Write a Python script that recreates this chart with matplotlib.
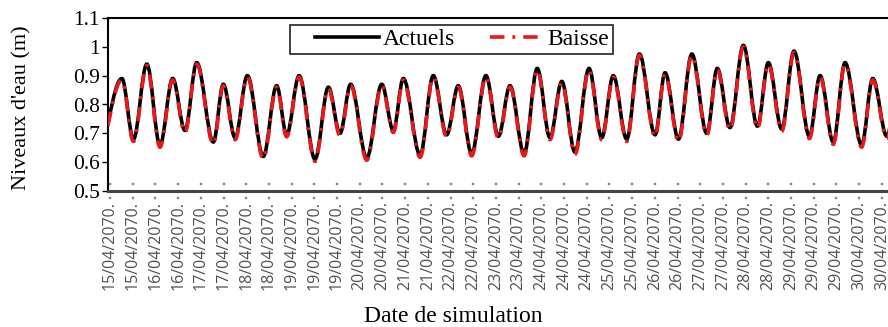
import matplotlib
matplotlib.use("Agg")
import matplotlib.pyplot as plt
import numpy as np
from matplotlib.path import Path
from matplotlib.patches import PathPatch
from matplotlib.lines import Line2D
from matplotlib.legend_handler import HandlerLine2D

# time axis in "label steps" (one step = spacing between two date labels)
t_ext = [-0.57, 0.52, 1.03, 1.62, 2.20, 2.76, 3.30, 3.82, 4.55, 4.99, 5.51, 6.05,
         6.75, 7.34, 7.78, 8.33, 9.03, 9.62, 10.13, 10.60, 11.31, 11.97, 12.48, 12.92,
         13.66, 14.24, 14.83, 15.34, 15.93, 16.56, 17.11, 17.62, 18.24, 18.82, 19.38, 19.90,
         20.48, 21.10, 21.66, 22.17, 22.76, 23.32, 24.01, 24.45, 25.04, 25.63, 26.29, 26.75,
         27.31, 27.90, 28.52, 29.00, 29.59, 30.13, 30.81, 31.28, 31.86, 32.38, 33.11, 33.60,
         34.22, 34.76]
# high / low water levels (m), current situation
actuels = [0.63, 0.89, 0.68, 0.94, 0.66, 0.89, 0.71, 0.945, 0.67, 0.87, 0.685, 0.90,
           0.62, 0.865, 0.695, 0.90, 0.61, 0.86, 0.70, 0.87, 0.615, 0.87, 0.71, 0.89,
           0.625, 0.90, 0.695, 0.865, 0.63, 0.90, 0.69, 0.865, 0.63, 0.925, 0.685, 0.88,
           0.635, 0.925, 0.685, 0.90, 0.68, 0.975, 0.695, 0.91, 0.68, 0.975, 0.70, 0.925,
           0.72, 1.005, 0.725, 0.945, 0.715, 0.985, 0.69, 0.90, 0.67, 0.945, 0.66, 0.89,
           0.69, 0.90]
# scenario "Baisse"
baisse = [0.62, 0.885, 0.672, 0.935, 0.652, 0.885, 0.703, 0.94, 0.662, 0.865, 0.678, 0.895,
          0.612, 0.86, 0.688, 0.895, 0.603, 0.855, 0.693, 0.865, 0.607, 0.865, 0.703, 0.885,
          0.617, 0.895, 0.688, 0.86, 0.622, 0.895, 0.683, 0.86, 0.622, 0.92, 0.678, 0.875,
          0.627, 0.92, 0.678, 0.895, 0.672, 0.97, 0.688, 0.905, 0.672, 0.97, 0.693, 0.92,
          0.712, 1.0, 0.717, 0.94, 0.707, 0.98, 0.682, 0.895, 0.662, 0.94, 0.652, 0.885,
          0.682, 0.895]

days = [15, 15, 16, 16, 17, 17, 18, 18, 19, 19, 19, 20, 20, 21, 21, 22, 22, 23, 23,
        24, 24, 24, 25, 25, 26, 26, 27, 27, 28, 28, 29, 29, 29, 30, 30]
xlabels = ["%d/04/2070." % d for d in days]
yticks = [0.5, 0.6, 0.7, 0.8, 0.9, 1.0, 1.1]
ylabels = ["0.5", "0.6", "0.7", "0.8", "0.9", "1", "1.1"]


def smooth_path(xs, ys, k=0.36):
    # smoothed line through the extremes (horizontal tangents), like a spreadsheet "smooth line"
    verts = [(xs[0], ys[0])]
    codes = [Path.MOVETO]
    for i in range(len(xs) - 1):
        dx = xs[i + 1] - xs[i]
        verts += [(xs[i] + k * dx, ys[i]), (xs[i + 1] - k * dx, ys[i + 1]), (xs[i + 1], ys[i + 1])]
        codes += [Path.CURVE4] * 3
    return Path(verts, codes)


serif = "Liberation Serif"
red = "#e8191c"
dashdot = (0, (4, 2.2, 0.8, 2.2))
fig = plt.figure(figsize=(8.88, 3.27), dpi=100)
ax = fig.add_axes([108 / 888, 1 - 191 / 327, 787 / 888, 173 / 327])

lw = 2.6
ax.add_patch(PathPatch(smooth_path(t_ext, actuels), fill=False, edgecolor="black", lw=lw, zorder=2))
ax.add_patch(PathPatch(smooth_path(t_ext, baisse), fill=False, edgecolor=red, lw=lw,
                       linestyle=dashdot, zorder=3))

ax.set_xlim(-0.09, 34.58)
ax.set_ylim(0.5, 1.1)

ax.set_yticks(yticks)
ax.set_yticklabels(ylabels, fontfamily=serif, fontsize=15.5)
ax.tick_params(axis="y", direction="out", length=4, width=1, pad=2)

ax.set_xticks(np.arange(len(xlabels)))
ax.set_xticklabels(xlabels, rotation=90, fontfamily="Open Sans", fontsize=11.5, color="#505050")
ax.tick_params(axis="x", pad=4)

# little dots above and below the axis at each label
sq = lambda cy: [(-0.13, cy - 0.13), (0.13, cy - 0.13), (0.13, cy + 0.13), (-0.13, cy + 0.13), (0, 0)]
dot_marker = Path(sq(1) + sq(-1), [Path.MOVETO, Path.LINETO, Path.LINETO, Path.LINETO, Path.CLOSEPOLY] * 2)
for tk in ax.xaxis.get_major_ticks():
    tk.tick1line.set_marker(dot_marker)
    tk.tick1line.set_markersize(11)
    tk.tick1line.set_markerfacecolor("#888888")
    tk.tick1line.set_markeredgecolor("#888888")
    tk.tick1line.set_markeredgewidth(0.3)

ax.spines["bottom"].set_linewidth(2.2)
ax.spines["bottom"].set_color("#444444")
ax.spines["left"].set_linewidth(1.5)
ax.spines["top"].set_linewidth(1.5)
ax.spines["right"].set_visible(False)

fig.text(22 / 888, 1 - 108 / 327, "Niveaux d'eau (m)", fontfamily=serif, fontsize=16,
         rotation=90, ha="center", va="center")
fig.text(453 / 888, 1 - 316 / 327, "Date de simulation", fontfamily=serif, fontsize=17,
         ha="center", va="center")

h_act = Line2D([], [], color="black", lw=lw)
h_bai = Line2D([], [], color=red, lw=lw, linestyle=dashdot)
leg = fig.legend([h_act, h_bai], ["Actuels", "Baisse"], loc="upper left",
                 bbox_to_anchor=(290 / 888, 1 - 25 / 327), ncol=2, frameon=True, fancybox=False,
                 edgecolor="black", handlelength=3.6, columnspacing=0.1, handletextpad=0.2,
                 borderpad=0.15, borderaxespad=0, prop={"family": serif, "size": 17},
                 handler_map={h_act: HandlerLine2D(xpad=0.9), h_bai: HandlerLine2D(xpad=1.35)})
leg.get_frame().set_linewidth(1.3)

fig.savefig("out.png", dpi=100)
